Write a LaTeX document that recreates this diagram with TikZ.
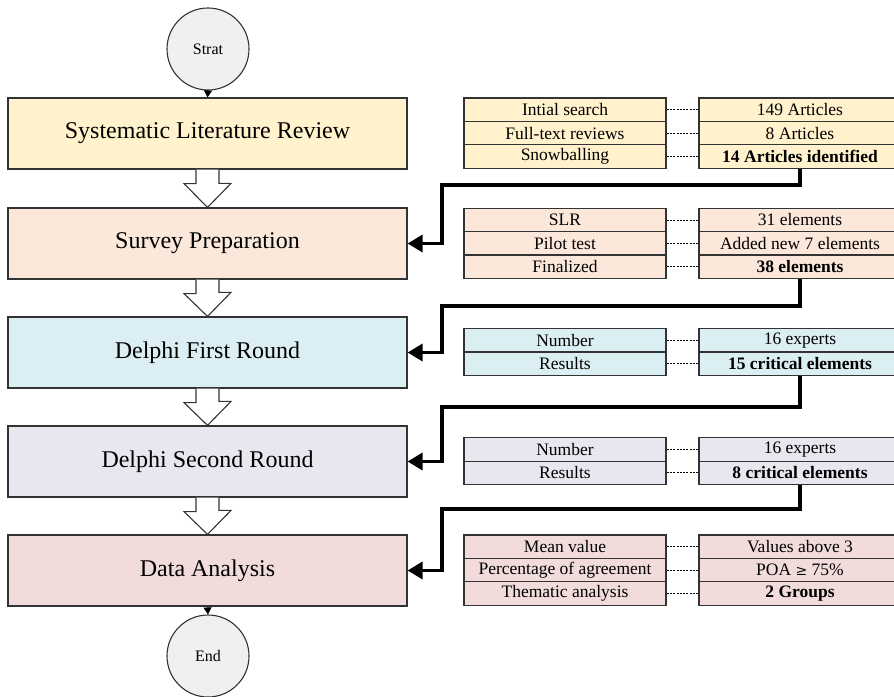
\documentclass[tikz,border=0pt]{standalone}
\usepackage{fontspec}
\setmainfont{Liberation Serif}
\usetikzlibrary{arrows.meta}
\definecolor{cY}{HTML}{FFF2CC}
\definecolor{cO}{HTML}{FCE8DA}
\definecolor{cB}{HTML}{DAEEF3}
\definecolor{cP}{HTML}{EAE6EF}
\definecolor{cR}{HTML}{F2DCDB}
\definecolor{cG}{HTML}{F0F0F0}
\definecolor{bd}{HTML}{333333}
\begin{document}
\begin{tikzpicture}[x=1pt,y=-1pt,
  mainbox/.style={draw=bd, line width=1.2pt, anchor=center, minimum width=399pt, minimum height=71pt, inner sep=0pt, font=\fontsize{24}{28}\selectfont},
  circ/.style={circle, draw=bd, line width=1.1pt, fill=cG, minimum size=82pt, inner sep=0pt, font=\fontsize{16}{18}\selectfont},
  cell/.style={draw=bd, line width=1.3pt, minimum width=202pt, minimum height=23.4pt, inner sep=0pt, font=\fontsize{17.5}{20}\selectfont},
  dotc/.style={draw=black, line width=0.9pt, dash pattern=on 2pt off 1.3pt},
  thick conn/.style={draw=black, line width=3.5pt, -{Triangle[length=15pt,width=17pt]}},
  smallarr/.style={draw=black, line width=0.6pt, -{Triangle[length=7pt,width=8pt]}},
  hollow/.style={draw=bd, line width=1.1pt, fill=white, line join=miter}
]
\useasboundingbox (0,0) rectangle (894,696);

% main boxes
\node[circ] (start) at (208,49) {Strat};
\node[mainbox, fill=cY] (b1) at (207.5,133.5) {Systematic Literature Review};
\node[mainbox, fill=cO] (b2) at (207.5,243.5) {Survey Preparation};
\node[mainbox, fill=cB] (b3) at (207.5,352.5) {Delphi First Round};
\node[mainbox, fill=cP] (b4) at (207.5,461.5) {Delphi Second Round};
\node[mainbox, fill=cR] (b5) at (207.5,570.5) {Data Analysis};
\node[circ] (end) at (208,656) {End};

\draw[smallarr] (start.south) -- (b1.north);
\draw[smallarr] (b5.south) -- (end.north);

% hollow arrows
\foreach \a/\b in {b1/b2,b2/b3,b3/b4,b4/b5}{
  \draw[hollow] ([xshift=-11.5pt]\a.south) -- ++(0,14) -- ++(-12,0) -- (\b.north) -- ++(23.5,-24) -- ++(-12,0) -- ([xshift=11.5pt]\a.south);
}

% tables: left column center x=565, right column center x=800
% table 1
\node[cell, fill=cY] (t1l1) at (565,109.7) {Intial search};
\node[cell, fill=cY] (t1l2) at (565,133.1) {Full-text reviews};
\node[cell, fill=cY] (t1l3) at (565,156.5) {Snowballing};
\node[cell, fill=cY] (t1r1) at (800,109.7) {149 Articles};
\node[cell, fill=cY] (t1r2) at (800,133.1) {8 Articles};
\node[cell, fill=cY] (t1r3) at (800,156.5) {\textbf{14 Articles identified}};
% table 2
\node[cell, fill=cO] (t2l1) at (565,220) {SLR};
\node[cell, fill=cO] (t2l2) at (565,243.4) {Pilot test};
\node[cell, fill=cO] (t2l3) at (565,266.8) {Finalized};
\node[cell, fill=cO] (t2r1) at (800,220) {31 elements};
\node[cell, fill=cO] (t2r2) at (800,243.4) {Added new 7 elements};
\node[cell, fill=cO] (t2r3) at (800,266.8) {\textbf{38 elements}};
% table 3
\node[cell, fill=cB] (t3l1) at (565,340.2) {Number};
\node[cell, fill=cB] (t3l2) at (565,363.8) {Results};
\node[cell, fill=cB] (t3r1) at (800,340.2) {16 experts};
\node[cell, fill=cB] (t3r2) at (800,363.8) {\textbf{15 critical elements}};
% table 4
\node[cell, fill=cP] (t4l1) at (565,449.5) {Number};
\node[cell, fill=cP] (t4l2) at (565,472.9) {Results};
\node[cell, fill=cP] (t4r1) at (800,449.5) {16 experts};
\node[cell, fill=cP] (t4r2) at (800,472.9) {\textbf{8 critical elements}};
% table 5
\node[cell, fill=cR] (t5l1) at (565,546.7) {Mean value};
\node[cell, fill=cR] (t5l2) at (565,570.1) {Percentage of agreement};
\node[cell, fill=cR] (t5l3) at (565,593.5) {Thematic analysis};
\node[cell, fill=cR] (t5r1) at (800,546.7) {Values above 3};
\node[cell, fill=cR] (t5r2) at (800,570.1) {POA {\fontspec{DejaVu Serif}\fontsize{14}{16}\selectfont ≥} 75\%};
\node[cell, fill=cR] (t5r3) at (800,593.5) {\textbf{2 Groups}};

% dotted connectors
\foreach \t in {t1l1/t1r1,t1l2/t1r2,t1l3/t1r3,t2l1/t2r1,t2l2/t2r2,t2l3/t2r3,t3l1/t3r1,t3l2/t3r2,t4l1/t4r1,t4l2/t4r2,t5l1/t5r1,t5l2/t5r2,t5l3/t5r3}{
  \foreach \p/\q in \t {\draw[dotc] (\p.east) -- (\q.west);}
}

% thick elbow connectors
\draw[thick conn] (t1r3.south) |- (442,185) |- (b2.east);
\draw[thick conn] (t2r3.south) |- (442,306) |- (b3.east);
\draw[thick conn] (t3r2.south) |- (442,407) |- (b4.east);
\draw[thick conn] (t4r2.south) |- (442,509) |- (b5.east);
\end{tikzpicture}
\end{document}
